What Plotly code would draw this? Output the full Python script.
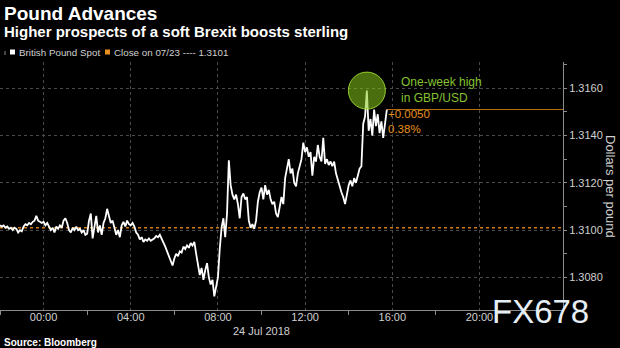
import pandas as pd
import plotly.graph_objects as go

# GBP/USD spot, 5-minute closes from 23 Jul 22:00 to 24 Jul 15:45 (London)
start_time = "2018-07-23 22:00"
step = "5min"
spot = [
    # 22:00
    1.31020, 1.31015, 1.31020, 1.31010, 1.31015, 1.31005, 1.31010, 1.31000, 1.31010, 1.31005, 1.30990, 1.31000,
    # 23:00
    1.30995, 1.31015, 1.31025, 1.31020, 1.31030, 1.31025, 1.31035, 1.31040, 1.31060, 1.31040, 1.31035, 1.31030,
    # 00:00
    1.31035, 1.31020, 1.31030, 1.31015, 1.31000, 1.31010, 1.30990, 1.31015, 1.31005, 1.31020, 1.31010, 1.31040,
    # 01:00
    1.31050, 1.31030, 1.31000, 1.30990, 1.31010, 1.31000, 1.31015, 1.31000, 1.31005, 1.30990, 1.31000, 1.30980,
    # 02:00
    1.30985, 1.31040, 1.31070, 1.30965, 1.31010, 1.31060, 1.30990, 1.31020, 1.30980, 1.31030, 1.31050, 1.31090,
    # 03:00
    1.31060, 1.31030, 1.31040, 1.31010, 1.30980, 1.31000, 1.30970, 1.31020, 1.31035, 1.31015, 1.31040, 1.31025,
    # 04:00
    1.31020, 1.31030, 1.31015, 1.30990, 1.30980, 1.30960, 1.30970, 1.30950, 1.30960, 1.30955, 1.30965, 1.30955,
    # 05:00
    1.30960, 1.30965, 1.30975, 1.30970, 1.30980, 1.30965, 1.30950, 1.30930, 1.30910, 1.30890, 1.30870, 1.30850,
    # 06:00
    1.30880, 1.30900, 1.30890, 1.30910, 1.30905, 1.30930, 1.30920, 1.30935, 1.30925, 1.30945, 1.30935, 1.30950,
    # 07:00
    1.30900, 1.30850, 1.30810, 1.30840, 1.30790, 1.30830, 1.30860, 1.30800, 1.30770, 1.30790, 1.30720, 1.30760,
    # 08:00
    1.30800, 1.30920, 1.31010, 1.31050, 1.30970, 1.31070, 1.31295, 1.31190, 1.31150, 1.31130, 1.31150, 1.31110,
    # 09:00
    1.31050, 1.31140, 1.31155, 1.31130, 1.31140, 1.31040, 1.31010, 1.31025, 1.31005, 1.31040, 1.31120, 1.31160,
    # 10:00
    1.31180, 1.31130, 1.31190, 1.31150, 1.31170, 1.31130, 1.31110, 1.31120, 1.31070, 1.31055, 1.31090, 1.31140,
    # 11:00
    1.31110, 1.31220, 1.31260, 1.31300, 1.31240, 1.31260, 1.31200, 1.31185, 1.31240, 1.31270, 1.31300, 1.31370,
    # 12:00
    1.31330, 1.31350, 1.31310, 1.31330, 1.31230, 1.31310, 1.31290, 1.31360, 1.31310, 1.31290, 1.31390, 1.31280,
    # 13:00
    1.31300, 1.31275, 1.31290, 1.31270, 1.31290, 1.31240, 1.31210, 1.31190, 1.31160, 1.31140, 1.31110, 1.31150,
    # 14:00
    1.31190, 1.31210, 1.31185, 1.31220, 1.31200, 1.31230, 1.31260, 1.31270, 1.31450, 1.31480, 1.31590, 1.31420,
    # 15:00
    1.31470, 1.31400, 1.31510, 1.31440, 1.31490, 1.31410, 1.31460, 1.31390, 1.31450, 1.31510,
]
prev_close = 1.3101

y_ticks = [1.3080, 1.3100, 1.3120, 1.3140, 1.3160]
y_minor = [1.3070, 1.3090, 1.3110, 1.3130, 1.3150, 1.3170]
x_ticks = ["2018-07-24 00:00", "2018-07-24 04:00", "2018-07-24 08:00",
           "2018-07-24 12:00", "2018-07-24 16:00", "2018-07-24 20:00"]
x_tick_text = ["00:00", "04:00", "08:00", "12:00", "16:00", "20:00"]
x_minor = ["2018-07-23 22:00", "2018-07-24 02:00", "2018-07-24 06:00", "2018-07-24 10:00",
           "2018-07-24 14:00", "2018-07-24 18:00", "2018-07-24 22:00"]
x_range = ["2018-07-23 22:00", "2018-07-24 23:50"]
y_range = [1.30662, 1.31711]

times = pd.date_range(start_time, periods=len(spot), freq=step)
last = spot[-1]
change = last - prev_close
pct = change / prev_close * 100
peak_i = max(range(len(spot)), key=lambda i: spot[i])

W, H = 620, 348
ML, MR, MT, MB = 0, 57, 62, 38
PW, PH = W - ML - MR, H - MT - MB


def px(x):
    return (x - ML) / PW


def py(y):
    return (H - MB - y) / PH


GRID = "#4a4a4a"
AXIS = "#8c8c8c"
TXT = "#d0d0d0"
ORANGE = "#e8901e"
GREEN = "#86c232"
FONT = "Liberation Sans"

fig = go.Figure()

# previous close reference (dotted)
fig.add_trace(go.Scatter(
    x=[x_range[0], x_range[1]], y=[prev_close, prev_close], mode="lines",
    line=dict(color="#d07c10", width=1.5, dash="dot"), hoverinfo="skip", showlegend=False))

# last price marker line
fig.add_trace(go.Scatter(
    x=[times[-1], x_range[1]], y=[last, last], mode="lines",
    line=dict(color="#b8700c", width=1), hoverinfo="skip", showlegend=False))

fig.add_trace(go.Scatter(
    x=times, y=spot, mode="lines", line=dict(color="white", width=1.8),
    showlegend=False))

shapes = [
    # one-week high highlight
    dict(type="circle", xref="x", yref="y", xsizemode="pixel", ysizemode="pixel",
         xanchor=times[peak_i], yanchor=spot[peak_i], x0=-18.5, x1=18.5, y0=-18.5, y1=18.5,
         fillcolor="rgba(135,200,25,0.55)", line=dict(color="rgba(160,220,50,0.9)", width=1),
         layer="above"),
    # legend swatches
    dict(type="rect", xref="paper", yref="paper", x0=px(10), x1=px(15), y0=py(54.5), y1=py(49.5),
         fillcolor="white", line=dict(width=0)),
    dict(type="rect", xref="paper", yref="paper", x0=px(105), x1=px(110), y0=py(54.5), y1=py(49.5),
         fillcolor=ORANGE, line=dict(width=0)),
    dict(type="line", xref="paper", yref="paper", x0=px(5), x1=px(5), y0=py(55), y1=py(51),
         line=dict(color="#888", width=1)),
]

annotations = [
    dict(text="<b>Pound Advances</b>", x=px(2), y=py(14), font=dict(size=19, color="white")),
    dict(text="<b>Higher prospects of a soft Brexit boosts sterling</b>", x=px(2), y=py(31),
         font=dict(size=15, color="white")),
    dict(text="British Pound Spot", x=px(17), y=py(52), font=dict(size=9.8, color=TXT)),
    dict(text=f"Close on 07/23 ---- {prev_close:.4f}", x=px(112), y=py(52),
         font=dict(size=9.8, color=TXT)),
    dict(text="<b>Source: Bloomberg</b>", x=px(2), y=py(342), font=dict(size=10, color="white")),
    dict(text="Dollars per pound", x=px(611), y=py(186), textangle=90,
         font=dict(size=13, color=TXT), xanchor="center"),
    dict(text="One-week high<br>in GBP/USD", x=px(399), y=py(90), align="left",
         font=dict(size=12, color=GREEN)),
    dict(text=f"{change:+.4f}<br>{pct:.2f}%", x=px(386), y=py(121), align="left",
         font=dict(size=11.5, color=ORANGE)),
    dict(text="FX678", x=px(540), y=py(311), xanchor="center",
         font=dict(size=33, color="#e6eef6", family="Liberation Sans")),
]
for a in annotations:
    a.setdefault("xref", "paper")
    a.setdefault("yref", "paper")
    a.setdefault("xanchor", "left")
    a.setdefault("yanchor", "middle")
    a["showarrow"] = False
annotations.append(dict(text="24 Jul 2018", x="2018-07-24 10:00", xref="x", y=py(331), yref="paper",
                        xanchor="center", yanchor="middle", showarrow=False,
                        font=dict(size=11, color=TXT)))

fig.update_layout(
    width=W, height=H, margin=dict(l=ML, r=MR, t=MT, b=MB),
    paper_bgcolor="black", plot_bgcolor="black",
    font=dict(family=FONT, color=TXT),
    shapes=shapes, annotations=annotations, showlegend=False,
    xaxis=dict(
        type="date", range=x_range, tickvals=x_ticks, ticktext=x_tick_text,
        tickfont=dict(size=11, color=TXT), ticks="", ticklabelstandoff=-3,
        showgrid=True, gridcolor=GRID, griddash="dot", gridwidth=1,
        showline=True, linecolor=AXIS, linewidth=1, zeroline=False,
        minor=dict(tickvals=x_minor, ticks="outside", ticklen=4, tickcolor=AXIS, showgrid=False),
    ),
    yaxis=dict(
        side="right", range=y_range, tickvals=y_ticks, ticktext=[f"{v:.4f}" for v in y_ticks],
        tickfont=dict(size=11, color=TXT), ticks="outside", ticklen=3, tickcolor=AXIS,
        showgrid=True, gridcolor=GRID, griddash="dot", gridwidth=1,
        showline=True, linecolor=AXIS, linewidth=1, zeroline=False,
        minor=dict(tickvals=y_minor, ticks="outside", ticklen=3, tickcolor=AXIS, showgrid=False),
    ),
)

fig.write_html("out.html")
